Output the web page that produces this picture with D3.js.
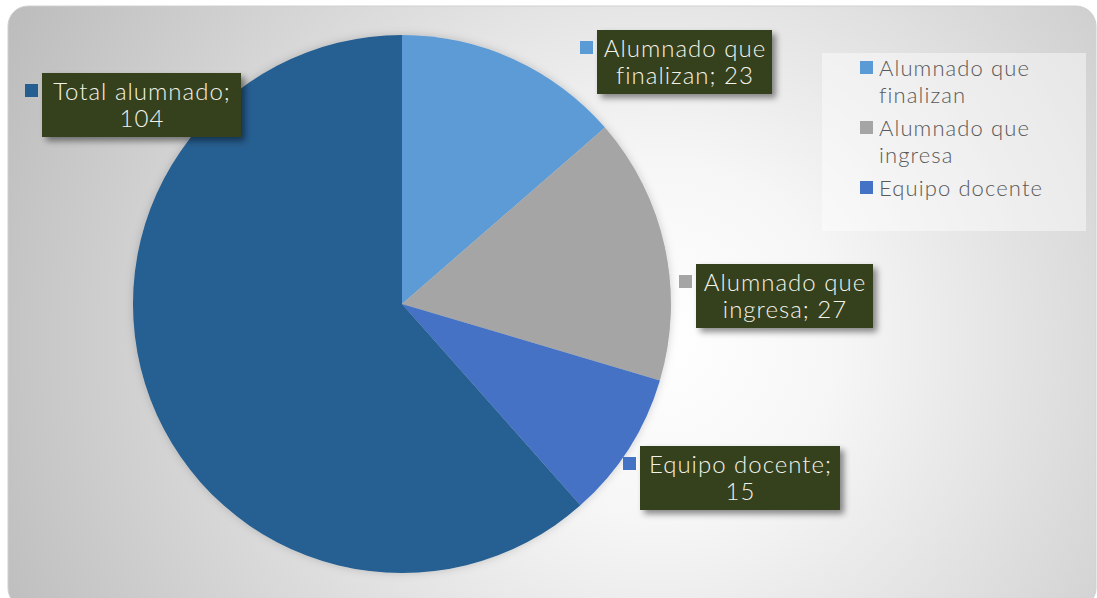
<!DOCTYPE html>
<meta charset="utf-8">
<script src="https://d3js.org/d3.v7.min.js"></script>
<style>
  body { margin: 0; background: #fff; }
  text { font-family: Lato, "Open Sans", sans-serif; font-weight: 300; }
</style>
<div id="chart"></div>
<script>
    // data
    var categories = ["Alumnado que finalizan", "Alumnado que ingresa", "Equipo docente", "Total alumnado"];
    var values = [23, 27, 15, 104];
    var colors = ["#5B9BD5", "#A5A5A5", "#4472C4", "#255E91"];
    // label lines as shown in the data labels and legend
    var labelLines = [["Alumnado que", "finalizan; 23"], ["Alumnado que", "ingresa; 27"], ["Equipo docente;", "15"], ["Total alumnado;", "104"]];
    var legendLines = [["Alumnado que", "finalizan"], ["Alumnado que", "ingresa"], ["Equipo docente"]];

    var width = 1097, height = 598;
    var cx = 402, cy = 304, radius = 269;

    var svg = d3.select("#chart").append("svg")
        .attr("width", width)
        .attr("height", height);

    var defs = svg.append("defs");
    var grad = defs.append("radialGradient")
        .attr("id", "bg")
        .attr("gradientUnits", "userSpaceOnUse")
        .attr("cx", 660).attr("cy", 340).attr("r", 720);
    grad.append("stop").attr("offset", 0).attr("stop-color", "#ffffff");
    grad.append("stop").attr("offset", 0.25).attr("stop-color", "#f6f6f6");
    grad.append("stop").attr("offset", 1).attr("stop-color", "#bdbdbd");

    var shadow = defs.append("filter").attr("id", "shadow")
        .attr("x", "-20%").attr("y", "-20%").attr("width", "150%").attr("height", "160%");
    shadow.append("feDropShadow")
        .attr("dx", 4).attr("dy", 4).attr("stdDeviation", 3)
        .attr("flood-color", "#000").attr("flood-opacity", 0.45);

    var glow = defs.append("filter").attr("id", "glow")
        .attr("x", "-10%").attr("y", "-10%").attr("width", "120%").attr("height", "120%");
    glow.append("feDropShadow")
        .attr("dx", 0).attr("dy", 0).attr("stdDeviation", 4)
        .attr("flood-color", "#000").attr("flood-opacity", 0.18);

    // chart area background
    svg.append("rect")
        .attr("x", 8).attr("y", 6)
        .attr("width", 1088).attr("height", 602)
        .attr("rx", 20)
        .attr("fill", "url(#bg)")
        .attr("stroke", "#d0d0d0");

    // pie
    var pie = d3.pie().sort(null).value(function(d) { return d; });
    var arcs = pie(values);
    var arc = d3.arc().innerRadius(0).outerRadius(radius);

    var g = svg.append("g")
        .attr("transform", "translate(" + cx + "," + cy + ")")
        .attr("filter", "url(#glow)");

    g.selectAll("path")
        .data(arcs)
        .enter()
        .append("path")
        .attr("d", arc)
        .attr("fill", function(d, i) { return colors[i]; });

    // data label boxes (left, top, width, height) as placed by the original chart
    var labelBoxes = [[597, 30, 175, 64], [696, 264, 177, 64], [640, 446, 200, 64], [42, 73, 199, 64]];

    var labels = svg.selectAll(".dlabel")
        .data(arcs)
        .enter()
        .append("g")
        .attr("class", "dlabel");

    labels.append("rect")
        .attr("x", function(d, i) { return labelBoxes[i][0]; })
        .attr("y", function(d, i) { return labelBoxes[i][1]; })
        .attr("width", function(d, i) { return labelBoxes[i][2]; })
        .attr("height", function(d, i) { return labelBoxes[i][3]; })
        .attr("fill", "#353F1B")
        .attr("filter", "url(#shadow)");

    labels.append("rect")
        .attr("x", function(d, i) { return labelBoxes[i][0] - 17; })
        .attr("y", function(d, i) { return labelBoxes[i][1] + 11; })
        .attr("width", 13).attr("height", 13)
        .attr("fill", function(d, i) { return colors[i]; });

    labels.each(function(d, i) {
        var b = labelBoxes[i];
        var t = d3.select(this).append("text")
            .attr("text-anchor", "middle")
            .attr("fill", "#f2f2ea")
            .style("font-size", "24px")
            .style("letter-spacing", "1px");
        labelLines[i].forEach(function(line, j) {
            t.append("tspan")
                .attr("x", b[0] + b[2] / 2 + 0.5)
                .attr("y", b[1] + 27 + j * 27)
                .text(line);
        });
    });

    // legend
    svg.append("rect")
        .attr("x", 822).attr("y", 53)
        .attr("width", 264).attr("height", 178)
        .attr("fill", "#ffffff").attr("fill-opacity", 0.45);

    var legendY = [76, 136, 196];
    var legend = svg.selectAll(".legend")
        .data(legendLines)
        .enter()
        .append("g")
        .attr("class", "legend");

    legend.append("rect")
        .attr("x", 860)
        .attr("y", function(d, i) { return legendY[i] - 15; })
        .attr("width", 13).attr("height", 13)
        .attr("fill", function(d, i) { return colors[i]; });

    legend.each(function(d, i) {
        var t = d3.select(this).append("text")
            .attr("fill", "#595959")
            .style("font-size", "22px")
            .style("letter-spacing", "1.1px");
        d.forEach(function(line, j) {
            t.append("tspan")
                .attr("x", 879)
                .attr("y", legendY[i] + j * 27)
                .text(line);
        });
    });
</script>
